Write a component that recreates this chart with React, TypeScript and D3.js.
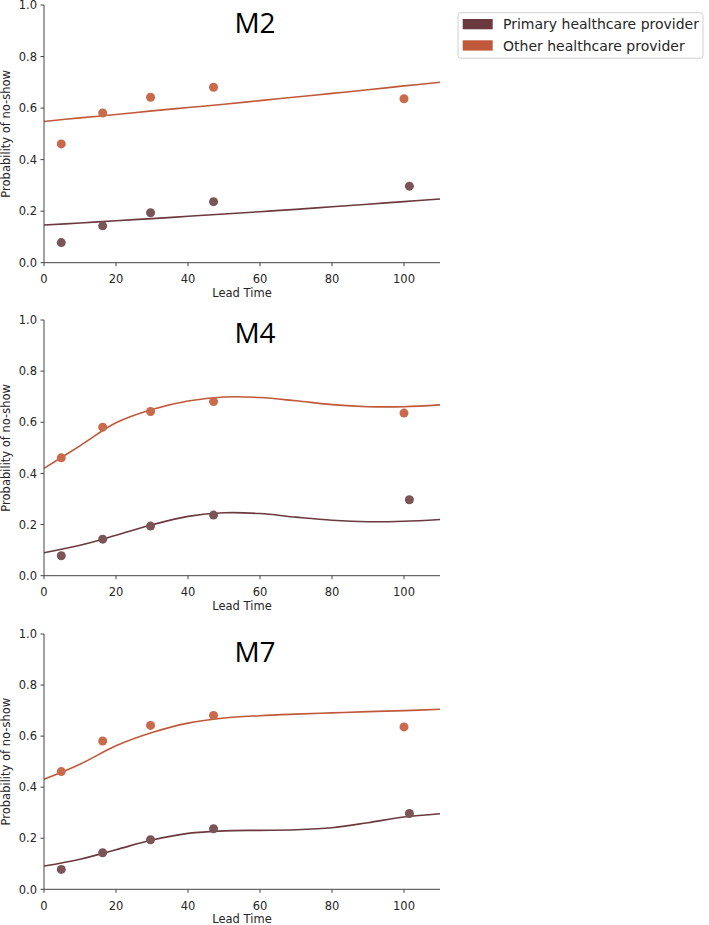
import React from "react";
import * as d3 from "d3";

// ---------- data ----------
const seriesNames = ["Primary healthcare provider", "Other healthcare provider"];
const seriesColors = ["#6b3a3e", "#c0583a"];
const dotColors = ["#7b5458", "#c96a4c"];

const panelTitles = ["M2", "M4", "M7"];

// observed points
const obsLeadPrimary = [4.8, 16.3, 29.6, 47.1, 101.5];
const obsPrimary = [0.078, 0.143, 0.194, 0.237, 0.297];
const obsLeadOther = [4.8, 16.3, 29.6, 47.1, 100.0];
const obsOther = [0.461, 0.581, 0.642, 0.681, 0.636];

// fitted curves
const fitLead = [0, 10, 20, 30, 40, 50, 60, 70, 80, 90, 100, 110];
const m2Primary = [0.146, 0.154, 0.163, 0.171, 0.18, 0.189, 0.198, 0.207, 0.217, 0.227, 0.237, 0.247];
const m2Other = [0.548, 0.562, 0.575, 0.589, 0.602, 0.615, 0.629, 0.643, 0.657, 0.671, 0.686, 0.7];
const m4Primary = [0.09, 0.119, 0.158, 0.199, 0.232, 0.246, 0.243, 0.229, 0.217, 0.211, 0.213, 0.22];
const m4Other = [0.42, 0.508, 0.598, 0.65, 0.683, 0.699, 0.697, 0.684, 0.669, 0.661, 0.661, 0.668];
const m7Primary = [0.091, 0.118, 0.155, 0.193, 0.219, 0.229, 0.231, 0.233, 0.241, 0.261, 0.283, 0.296];
const m7Other = [0.431, 0.49, 0.562, 0.614, 0.651, 0.671, 0.68, 0.686, 0.691, 0.696, 0.7, 0.705];

const fits = [
  [m2Primary, m2Other],
  [m4Primary, m4Other],
  [m7Primary, m7Other],
];

const xTicks = [0, 20, 40, 60, 80, 100];
const yTicks = [0, 0.2, 0.4, 0.6, 0.8, 1.0];

// ---------- layout ----------
const W = 709;
const H = 925;
const left = 44;
const right = 440;
const panelTops = [5, 320, 634];
const panelBottoms = [262.7, 575.7, 889.3];
const titleBaselines = [33, 343, 661.5];
const axisColor = "#444";
const textColor = "#262626";
const font = "DejaVu Sans, sans-serif";

function Panel({ idx }: { idx: number }) {
  const x = d3.scaleLinear().domain([0, 110]).range([left, right]);
  const y = d3.scaleLinear().domain([0, 1]).range([panelBottoms[idx], panelTops[idx]]);
  const line = d3
    .line<number>()
    .x((_, i) => x(fitLead[i]))
    .y((d) => y(d))
    .curve(d3.curveCatmullRom.alpha(0.5));
  const [fp, fo] = fits[idx];
  const yb = panelBottoms[idx];
  const cy = (panelTops[idx] + panelBottoms[idx]) / 2;
  return (
    <g>
      {/* fitted lines */}
      <path d={line(fp) || ""} fill="none" stroke={seriesColors[0]} strokeWidth={1.6} />
      <path d={line(fo) || ""} fill="none" stroke={seriesColors[1]} strokeWidth={1.6} />
      {/* dots */}
      {obsPrimary.map((v, i) => (
        <circle key={"p" + i} cx={x(obsLeadPrimary[i])} cy={y(v)} r={4.5} fill={dotColors[0]} />
      ))}
      {obsOther.map((v, i) => (
        <circle key={"o" + i} cx={x(obsLeadOther[i])} cy={y(v)} r={4.5} fill={dotColors[1]} />
      ))}
      {/* axes */}
      <line x1={left} x2={left} y1={panelTops[idx]} y2={yb} stroke={axisColor} strokeWidth={1} />
      <line x1={left} x2={right} y1={yb} y2={yb} stroke={axisColor} strokeWidth={1} />
      {yTicks.map((t) => (
        <g key={"y" + t}>
          <line x1={left - 3.5} x2={left} y1={y(t)} y2={y(t)} stroke={axisColor} strokeWidth={1} />
          <text x={left - 7} y={y(t) + 4.2} textAnchor="end" fontSize={11.5} fontFamily={font} fill={textColor}>
            {t.toFixed(1)}
          </text>
        </g>
      ))}
      {xTicks.map((t) => (
        <g key={"x" + t}>
          <line x1={x(t)} x2={x(t)} y1={yb} y2={yb + 3.5} stroke={axisColor} strokeWidth={1} />
          <text x={x(t)} y={yb + 20.5} textAnchor="middle" fontSize={11.5} fontFamily={font} fill={textColor}>
            {t}
          </text>
        </g>
      ))}
      <text x={(left + right) / 2} y={yb + 34} textAnchor="middle" fontSize={11.5} fontFamily={font} fill={textColor}>
        Lead Time
      </text>
      <text
        transform={`translate(10,${cy}) rotate(-90)`}
        textAnchor="middle"
        fontSize={11.5}
        fontFamily={font}
        fill={textColor}
      >
        Probability of no-show
      </text>
      <text x={255} y={titleBaselines[idx]} textAnchor="middle" fontSize={28} fontFamily="Open Sans, sans-serif" fill="#000">
        {panelTitles[idx]}
      </text>
    </g>
  );
}

export default function App() {
  return (
    <svg width={W} height={H} style={{ position: "absolute", left: 0, top: 0, background: "#fff" }}>
      <rect width={W} height={H} fill="#fff" />
      {panelTitles.map((_, i) => (
        <Panel key={i} idx={i} />
      ))}
      {/* legend */}
      <rect x={458} y={12.7} width={245} height={45.5} rx={3} fill="#fff" stroke="#d0d0d0" strokeWidth={1} />
      {seriesNames.map((n, i) => (
        <g key={n}>
          <rect x={462.7} y={19 + i * 21.3} width={30} height={10.3} fill={seriesColors[i]} />
          <text x={503} y={29.2 + i * 21.3} fontSize={14} fontFamily={font} fill={textColor}>
            {n}
          </text>
        </g>
      ))}
    </svg>
  );
}
